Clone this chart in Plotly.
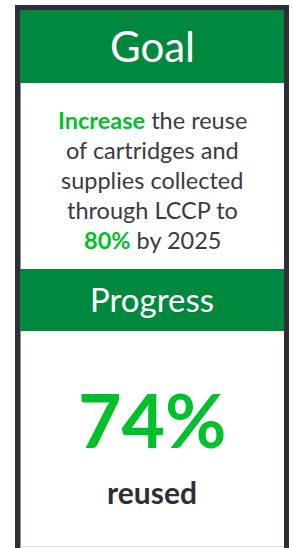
import plotly.graph_objects as go

# ---- data ----
goal_title = "Goal"
progress_title = "Progress"
goal_verb = ["Increase"]
goal_phrases = ["the reuse", "of cartridges and", "supplies collected", "through LCCP to"]
goal_target_pct = [80]
goal_year = [2025]
progress_pct = [74]
progress_label = ["reused"]

# ---- styling ----
W, H = 293, 548
DARK = "#2e2e38"
GREEN = "#00883f"
BRIGHT = "#00c12b"
TEXT = "#3a3a44"
FONT = "Lato"
CX = 152

fig = go.Figure()

shapes = [
    dict(type="rect", x0=15, x1=289, y0=5, y1=600, fillcolor=DARK, line_width=0, layer="below"),
    dict(type="rect", x0=20, x1=284, y0=10, y1=600, fillcolor="white", line_width=0, layer="below"),
    dict(type="line", x0=20.5, x1=20.5, y0=83, y1=548, line=dict(color="#8c8c94", width=1)),
    dict(type="line", x0=20, x1=284, y0=546.5, y1=546.5, line=dict(color="#dcdcdf", width=1)),
    dict(type="rect", x0=20, x1=284, y0=10, y1=83, fillcolor=GREEN, line_width=0),
    dict(type="rect", x0=20, x1=284, y0=269, y1=331, fillcolor=GREEN, line_width=0),
]

ann = []
def add(text, y, size, color, weight=400):
    ann.append(dict(x=CX, y=y, xref="x", yref="y", text=text, showarrow=False,
                    xanchor="center", yanchor="middle",
                    font=dict(family=FONT, size=size, color=color, weight=weight)))

add(goal_title, 46, 42, "white")
lines = [f"<span style='color:{BRIGHT}'><b>{goal_verb[0]}</b></span> {goal_phrases[0]}"] + goal_phrases[1:] + \
        [f"<span style='color:{BRIGHT}'><b>{goal_target_pct[0]}%</b></span> by {goal_year[0]}"]
for i, t in enumerate(lines):
    add(t, 120 + 30 * i, 23.5, TEXT)
add(progress_title, 299, 33, "white")
add(f"<b>{progress_pct[0]}%</b>", 419, 75, BRIGHT, 700)
add(f"<b>{progress_label[0]}</b>", 492, 30, DARK, 700)

fig.update_layout(
    width=W, height=H, margin=dict(l=0, r=0, t=0, b=0),
    paper_bgcolor="white", plot_bgcolor="white",
    xaxis=dict(range=[0, W], visible=False, fixedrange=True),
    yaxis=dict(range=[H, 0], visible=False, fixedrange=True),
    shapes=shapes, annotations=ann, showlegend=False,
)
fig.write_html("out.html", config={"displayModeBar": False},
               post_script="document.body.style.margin='0';document.body.style.overflow='hidden';")
